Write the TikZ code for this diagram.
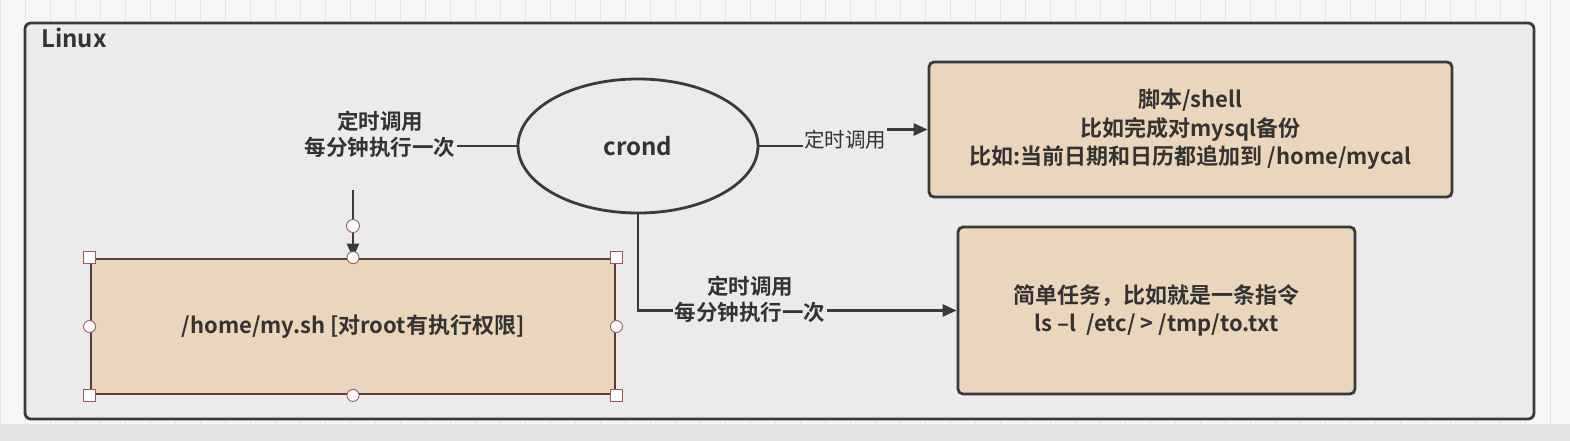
\documentclass[tikz,border=0pt]{standalone}
\usepackage{fontspec}
\setmainfont{Noto Sans CJK SC}[BoldFont={Noto Sans CJK SC Bold}]
\usepackage{tikz}
\usepackage{xcolor}
\usetikzlibrary{shapes.geometric,arrows.meta}

\definecolor{paper}{HTML}{F6F6F6}
\definecolor{gridline}{HTML}{E4E4E4}
\definecolor{frame}{HTML}{EBEBEB}
\definecolor{line}{HTML}{3A3A3A}
\definecolor{ink}{HTML}{333333}
\definecolor{peach}{HTML}{EAD6BD}
\definecolor{pick}{HTML}{5A3A3A}
\definecolor{handle}{HTML}{9A5A5A}

\tikzset{
  every node/.style={text=ink, align=center, font=\fontsize{22}{28.5}\selectfont\bfseries},
  task/.style={draw=line, fill=peach, line width=2.8pt, rounded corners=5pt, inner sep=0pt},
  link/.style={draw=line, line width=2.8pt},
  tip/.style={-{Triangle[length=14pt,width=12pt]}},
  tag/.style={fill=frame, inner sep=1.5pt, font=\fontsize{21.5}{26}\selectfont\bfseries},
  knob/.style={draw=handle, fill=white, line width=0.9pt},
}

\begin{document}
\begin{tikzpicture}[x=1pt,y=-1pt]
    \useasboundingbox (0,0) rectangle (1570,441);
    % canvas with grid
    \fill[paper] (0,0) rectangle (1570,441);
    \draw[gridline, line width=0.6pt, step=25] (0,0) grid (1570,441);
    \fill[gray!22] (0,424) rectangle (1570,441);
    \draw[line, line width=2.8pt, fill=frame, rounded corners=6pt]
      (25,23) rectangle (1534,419);
    \node[anchor=west, inner sep=0pt, font=\fontsize{24}{28}\selectfont\bfseries]
      (linux) at (41,38) {Linux};

    % crond and the jobs
    \node[ellipse, draw=line, fill=frame, line width=2.8pt, inner sep=0pt,
      minimum width=240pt, minimum height=134pt,
      font=\fontsize{24}{28}\selectfont\bfseries] (crond) at (638,146) {crond};
    \node[task, minimum width=523pt, minimum height=135pt] (script) at (1190.5,129.5)
      {脚本/shell\\比如完成对mysql备份\\比如:当前日期和日历都追加到 /home/mycal};
    \node[task, minimum width=397pt, minimum height=167pt] (simple) at (1156.5,310.5)
      {简单任务，比如就是一条指令\\ls –l\ \ /etc/ > /tmp/to.txt};
    \node[task, draw=pick, rounded corners=0pt, minimum width=524pt,
      minimum height=135pt] (mysh) at (353,326.5)
      {/home/my.sh [对root有执行权限]};

    % connectors
    \node[tag] (every) at (380,134) {定时调用\\每分钟执行一次};
    \draw[link] (every.east |- crond.west) -- (crond.west);

    \node[tag, inner sep=1pt, font=\fontsize{20.5}{24}\selectfont] (call) at (845,140) {定时调用};
    \draw[link] (crond.east) -- (call.west |- crond.east);
    \draw[link, tip] (call.east |- script.west) -- (script.west);

    \coordinate (corner) at (crond.south |- simple.west);
    \draw[link, tip] (crond.south) -- (corner) -- (simple.west);
    \node[tag] (timer) at (750,299) {定时调用\\每分钟执行一次};

    \coordinate (drop) at (353,190);
    \draw[link, tip] (drop) -- (mysh.north);

    % selection handles
    \draw[knob] (353,226) circle[radius=6.5];
    \foreach \p in {north west, north east, south west, south east}
      \draw[knob] ([xshift=-6pt,yshift=-6pt]mysh.\p) rectangle ++(12pt,12pt);
    \foreach \p in {north, south, west, east}
      \draw[knob] (mysh.\p) circle[radius=6];
  \end{tikzpicture}
\end{document}
